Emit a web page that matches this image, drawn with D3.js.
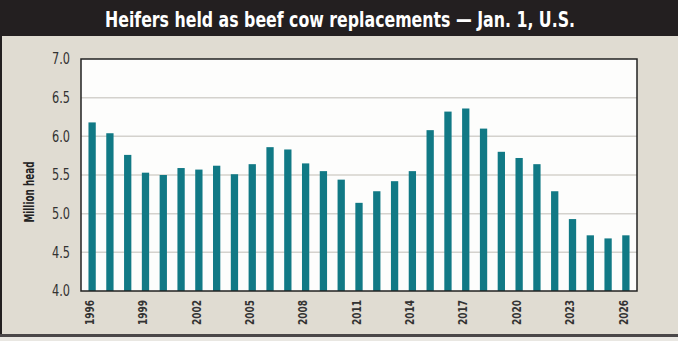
<!DOCTYPE html>
<html><head><meta charset="utf-8">
<script src="https://cdn.jsdelivr.net/npm/d3@7"></script>
<style>
html,body{margin:0;padding:0;background:#231f20;}
svg{display:block;}
</style></head>
<body>
<svg id="chart" width="678" height="341"></svg>
<script>
const title = "Heifers held as beef cow replacements — Jan. 1, U.S.";
const yAxisLabel = "Million head";
const years = d3.range(1996, 2027).map(String);
const values = [6.18, 6.04, 5.76, 5.53, 5.50, 5.59, 5.57, 5.62, 5.51, 5.64,
                5.86, 5.83, 5.65, 5.55, 5.44, 5.14, 5.29, 5.42, 5.55, 6.08,
                6.32, 6.36, 6.10, 5.80, 5.72, 5.64, 5.29, 4.93, 4.72, 4.68, 4.72];
const yTicks = [4.0, 4.5, 5.0, 5.5, 6.0, 6.5, 7.0];
const xTickLabels = ["1996","1999","2002","2005","2008","2011","2014","2017","2020","2023","2026"];

const W = 678, H = 341;
const svg = d3.select("#chart");
const narrow = "'Liberation Sans Narrow', 'Arial Narrow', 'DejaVu Sans Condensed', sans-serif";

// frame
svg.append("rect").attr("x",0).attr("y",0).attr("width",W).attr("height",H).attr("fill","#231f20");
svg.append("rect").attr("x",2).attr("y",36).attr("width",W-2).attr("height",298).attr("fill","#e0dcd2");
svg.append("rect").attr("x",0).attr("y",334).attr("width",W).attr("height",3).attr("fill","#4a4748");
svg.append("rect").attr("x",0).attr("y",337).attr("width",W).attr("height",4).attr("fill","#e9e7e2");

svg.append("text").attr("x",340).attr("y",27).attr("text-anchor","middle")
  .attr("fill","#ffffff").attr("font-family",narrow).attr("font-weight","bold")
  .attr("font-size",21).attr("textLength",470).attr("lengthAdjust","spacingAndGlyphs")
  .text(title);

const plot = {left:81, right:637, top:59, bottom:291};
const x = d3.scaleBand().domain(years).range([plot.left, plot.right]).paddingInner(0.59).paddingOuter(0.42);
const y = d3.scaleLinear().domain([4.0, 7.0]).range([plot.bottom, plot.top]);

svg.append("rect").attr("x",plot.left).attr("y",plot.top)
  .attr("width",plot.right-plot.left).attr("height",plot.bottom-plot.top).attr("fill","#fdfdfc");

// gridlines
svg.append("g").selectAll("line").data(yTicks.filter(t => t>4 && t<7)).join("line")
  .attr("x1",plot.left).attr("x2",plot.right)
  .attr("y1",d=>y(d)).attr("y2",d=>y(d))
  .attr("stroke","#d4d2cd").attr("stroke-width",1.5);

// bars
svg.append("g").selectAll("rect").data(values).join("rect")
  .attr("x",(d,i)=>x(years[i])).attr("width",x.bandwidth())
  .attr("y",d=>y(d)).attr("height",d=>y(4.0)-y(d))
  .attr("fill","#117985");

// border
svg.append("rect").attr("x",plot.left).attr("y",plot.top)
  .attr("width",plot.right-plot.left).attr("height",plot.bottom-plot.top)
  .attr("fill","none").attr("stroke","#222").attr("stroke-width",1.5);

// y tick labels
svg.append("g").selectAll("text").data(yTicks).join("text")
  .attr("x",70).attr("y",d=>y(d)).attr("dy","0.36em").attr("text-anchor","end")
  .attr("font-family",narrow).attr("font-size",15).attr("fill","#333")
  .attr("textLength",18).attr("lengthAdjust","spacingAndGlyphs")
  .text(d=>d.toFixed(1));

// y axis label
svg.append("text").attr("transform","translate(34,192) rotate(-90)")
  .attr("text-anchor","middle").attr("font-family",narrow).attr("font-weight","bold")
  .attr("font-size",14).attr("fill","#222")
  .attr("textLength",61).attr("lengthAdjust","spacingAndGlyphs")
  .text(yAxisLabel);

// x tick labels
svg.append("g").selectAll("text").data(xTickLabels).join("text")
  .attr("transform",d=>`translate(${x(d)+x.bandwidth()/2-3},300) rotate(-90)`)
  .attr("text-anchor","end").attr("dy","0.36em")
  .attr("font-family",narrow).attr("font-weight","bold").attr("font-size",13).attr("fill","#333")
  .attr("textLength",25).attr("lengthAdjust","spacingAndGlyphs")
  .text(d=>d);
</script>
</body></html>
